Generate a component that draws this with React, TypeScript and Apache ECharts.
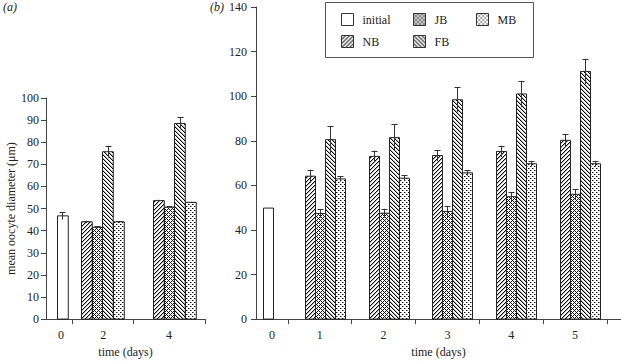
import React, { useEffect, useRef } from 'react';
import * as echarts from 'echarts';

const FONT = '"Liberation Serif", "Times New Roman", serif';
const SERIES = ['initial', 'NB', 'JB', 'FB', 'MB'];

// ---- Panel (a) ----
const A_DAYS = [2, 4];
const A_INITIAL = [46.7];
const A_INITIAL_ERR = [1.7];
const A_NB = [44.0, 53.6];
const A_NB_ERR = [0.5, 0.4];
const A_JB = [41.5, 50.6];
const A_JB_ERR = [0.4, 0.4];
const A_FB = [75.7, 88.5];
const A_FB_ERR = [2.7, 2.7];
const A_MB = [44.0, 52.8];
const A_MB_ERR = [0.4, 0.3];
const A_X_LABELS = ['0', '2', '4'];
const A_Y_MAX = 100;
const A_Y_STEP = 10;

// ---- Panel (b) ----
const B_DAYS = [1, 2, 3, 4, 5];
const B_INITIAL = [49.8];
const B_INITIAL_ERR = [0];
const B_NB = [64.1, 73.0, 73.4, 75.2, 80.2];
const B_NB_ERR = [2.9, 2.6, 2.5, 2.6, 2.7];
const B_JB = [47.4, 47.5, 48.3, 54.9, 56.0];
const B_JB_ERR = [1.9, 2.0, 2.5, 2.1, 2.2];
const B_FB = [80.5, 81.4, 98.4, 101.0, 111.1];
const B_FB_ERR = [6.0, 5.9, 5.6, 5.9, 5.7];
const B_MB = [62.9, 63.2, 65.6, 69.7, 69.7];
const B_MB_ERR = [1.2, 1.3, 1.3, 1.3, 1.3];
const B_X_LABELS = ['0', '1', '2', '3', '4', '5'];
const B_Y_MAX = 140;
const B_Y_STEP = 20;

// layout (axis positions of the columns; the day-0 column is a narrow one)
const PANEL = [
  { xMin: 0.583, xMax: 5.0, labelPos: [1.0, 2.17, 4], zeroBar: 1.03, barW: 10.75, ticks: [1.31, 3, 5] },
  { xMin: 0, xMax: 5.72, labelPos: [0.25, 1, 2, 3, 4, 5], zeroBar: 0.19, barW: 10, ticks: [0.5, 1.5, 2.5, 3.5, 4.5, 5.5] },
];

function makePattern(kind: string): any {
  const n = 4;
  const c = document.createElement('canvas');
  c.width = n;
  c.height = n;
  const g = c.getContext('2d')!;
  g.fillStyle = '#ffffff';
  g.fillRect(0, 0, n, n);
  const px = (x: number, y: number, col: string) => {
    g.fillStyle = col;
    g.fillRect(((x % n) + n) % n, ((y % n) + n) % n, 1, 1);
  };
  for (let y = 0; y < n; y++) {
    for (let x = 0; x < n; x++) {
      if (kind === 'fwd') {
        if ((x + y) % n === n - 1) px(x, y, '#000000');
        else if ((x + y) % n === 0) px(x, y, '#b0b0b0');
      } else if (kind === 'back') {
        if ((x - y + n) % n === 0) px(x, y, '#000000');
        else if ((x - y + n) % n === 1) px(x, y, '#b0b0b0');
      } else if (kind === 'cross') {
        if ((x + y) % n === 0 || (x - y + n) % n === 0) px(x, y, '#111111');
      }
    }
  }
  if (kind === 'dots') {
    px(0, 0, '#000000');
    px(1, 0, '#9a9a9a');
    px(2, 2, '#000000');
    px(3, 2, '#9a9a9a');
  }
  return { image: c.toDataURL(), repeat: 'repeat', imageWidth: n, imageHeight: n };
}

function zip(days: number[], vals: number[], errs: number[]) {
  return vals.map((v, i) => [days[i], v, errs[i]]);
}

export default function App() {
  const ref = useRef<HTMLDivElement>(null);
  useEffect(() => {
    const chart = echarts.init(ref.current!, null, { renderer: 'svg' });
    const fills: Record<string, any> = {
      initial: '#ffffff',
      NB: makePattern('fwd'),
      JB: makePattern('cross'),
      FB: makePattern('back'),
      MB: makePattern('dots'),
    };
    const dataA: Record<string, number[][]> = {
      initial: zip([0], A_INITIAL, A_INITIAL_ERR),
      NB: zip(A_DAYS, A_NB, A_NB_ERR),
      JB: zip(A_DAYS, A_JB, A_JB_ERR),
      FB: zip(A_DAYS, A_FB, A_FB_ERR),
      MB: zip(A_DAYS, A_MB, A_MB_ERR),
    };
    const dataB: Record<string, number[][]> = {
      initial: zip([0], B_INITIAL, B_INITIAL_ERR),
      NB: zip(B_DAYS, B_NB, B_NB_ERR),
      JB: zip(B_DAYS, B_JB, B_JB_ERR),
      FB: zip(B_DAYS, B_FB, B_FB_ERR),
      MB: zip(B_DAYS, B_MB, B_MB_ERR),
    };
    const axisColor = '#444';
    const textColor = '#222';

    const mkSeries = (name: string, idx: number, data: number[][], p: number) => ({
      type: 'custom',
      name,
      xAxisIndex: p,
      yAxisIndex: p,
      itemStyle: { color: fills[name], borderColor: '#222', borderWidth: 1 },
      encode: { x: 0, y: 1 },
      data,
      renderItem: (_params: any, api: any) => {
        const day = api.value(0);
        const v = api.value(1);
        const e = api.value(2);
        const L = PANEL[p];
        const bw = L.barW;
        const cx = day === 0
          ? api.coord([L.zeroBar, 0])[0]
          : api.coord([day, 0])[0] + (idx - 2) * bw;
        const y0 = api.coord([day, 0])[1];
        const yTop = api.coord([day, v])[1];
        const eTop = api.coord([day, v + e])[1];
        const eBot = api.coord([day, v - e])[1];
        const x0 = Math.round(cx - bw / 2) + 0.5;
        const xc = Math.round(cx) + 0.5;
        const children: any[] = [
          {
            type: 'rect',
            shape: { x: x0, y: yTop, width: bw, height: y0 - yTop },
            style: { fill: fills[name], stroke: '#222', lineWidth: 1 },
          },
        ];
        if (e > 0) {
          children.push({
            type: 'line',
            shape: { x1: xc, y1: eBot, x2: xc, y2: eTop },
            style: { stroke: '#333', lineWidth: 1 },
          });
          children.push({
            type: 'line',
            shape: { x1: xc - 3, y1: Math.round(eTop) + 0.5, x2: xc + 3, y2: Math.round(eTop) + 0.5 },
            style: { stroke: '#333', lineWidth: 1 },
          });
        }
        return { type: 'group', children };
      },
    });

    const series: any[] = [];
    SERIES.forEach((s, i) => series.push(mkSeries(s, i, dataA[s], 0)));
    SERIES.forEach((s, i) => series.push(mkSeries(s, i, dataB[s], 1)));

    const xAxis = (p: number, labels: string[]) => ({
      gridIndex: p,
      type: 'value',
      min: PANEL[p].xMin,
      max: PANEL[p].xMax,
      axisLine: { show: true, onZero: false, lineStyle: { color: axisColor, width: 1 } },
      axisTick: { show: true, length: 5, customValues: PANEL[p].ticks, lineStyle: { color: axisColor } },
      axisLabel: {
        customValues: PANEL[p].labelPos,
        formatter: (v: number) => {
          const i = PANEL[p].labelPos.findIndex((q) => Math.abs(q - v) < 1e-6);
          return i >= 0 ? labels[i] : '';
        },
        fontFamily: FONT,
        fontSize: 12,
        color: textColor,
        margin: 10,
      },
      splitLine: { show: false },
      name: 'time (days)',
      nameLocation: 'middle',
      nameGap: 25,
      nameTextStyle: { fontFamily: FONT, fontSize: 12, color: textColor },
    });

    const yAxis = (p: number, max: number, step: number, name?: string) => ({
      gridIndex: p,
      type: 'value',
      min: 0,
      max,
      interval: step,
      axisLine: { show: true, lineStyle: { color: axisColor, width: 1 } },
      axisTick: { show: true, length: 5, lineStyle: { color: axisColor } },
      axisLabel: { fontFamily: FONT, fontSize: 12, color: textColor, margin: p === 0 ? 7 : 9 },
      splitLine: { show: false },
      name: name || '',
      nameLocation: 'middle',
      nameGap: 28,
      nameTextStyle: { fontFamily: FONT, fontSize: 12, color: textColor },
    });

    const legendCommon = {
      orient: 'vertical',
      top: 13,
      itemWidth: 12,
      itemHeight: 12,
      itemGap: 9,
      icon: 'rect',
      selectedMode: false,
      padding: 0,
      textStyle: { fontFamily: FONT, fontSize: 12, color: textColor, padding: [0, 0, 0, 4] },
      itemStyle: { borderColor: '#333', borderWidth: 1 },
    };
    const legendItem = (n: string) => ({ name: n, itemStyle: { color: fills[n], borderColor: '#333', borderWidth: 1 } });

    chart.setOption({
      animation: false,
      backgroundColor: '#ffffff',
      grid: [
        { left: 46, right: 416, top: 98, bottom: 40 },
        { left: 256, right: 0, top: 7, bottom: 40 },
      ],
      xAxis: [xAxis(0, A_X_LABELS), xAxis(1, B_X_LABELS)],
      yAxis: [
        yAxis(0, A_Y_MAX, A_Y_STEP, 'mean oocyte diameter (\u03bcm)'),
        yAxis(1, B_Y_MAX, B_Y_STEP),
      ],
      legend: [
        { ...legendCommon, left: 341, data: ['initial', 'NB'].map(legendItem) },
        { ...legendCommon, left: 413, data: ['JB', 'FB'].map(legendItem) },
        { ...legendCommon, left: 476, data: ['MB'].map(legendItem) },
      ],
      graphic: [
        {
          type: 'rect',
          z: -1,
          shape: { x: 325.5, y: 2.5, width: 208, height: 55 },
          style: { fill: '#ffffff', stroke: '#555', lineWidth: 1 },
        },
        {
          type: 'text',
          left: 3,
          top: 1,
          style: { text: '(a)', font: 'italic 12px "Liberation Serif", serif', fill: textColor },
        },
        {
          type: 'text',
          left: 210,
          top: 1,
          style: { text: '(b)', font: 'italic 12px "Liberation Serif", serif', fill: textColor },
        },
      ],
      series,
    });
    return () => chart.dispose();
  }, []);
  return <div ref={ref} style={{ position: 'absolute', left: 0, top: 0, width: 621, height: 363 }} />;
}
